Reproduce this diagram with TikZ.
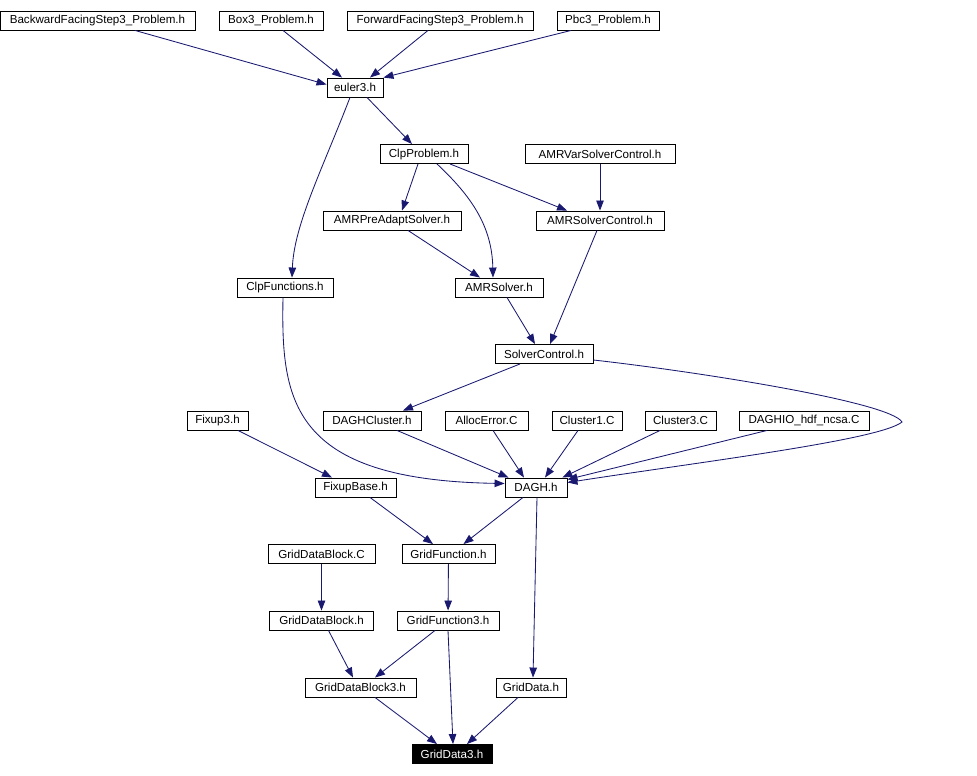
\documentclass[tikz,border=0pt]{standalone}
\usepackage{fontspec}
\setmainfont{Liberation Sans}
\definecolor{lnk}{HTML}{191970}
\usetikzlibrary{arrows.meta}

\begin{document}
\begin{tikzpicture}[x=1pt,y=-1pt,
    fl/.style={draw=black,fill=white,line width=0.9pt,inner sep=0pt,
      minimum height=19pt,font=\fontsize{11.6}{13}\selectfont},
    cur/.style={fl,fill=black,text=white},
    ar/.style={-{Triangle[length=10pt,width=7.5pt]},lnk,line width=0.85pt},
  ]
    \useasboundingbox (0,0) rectangle (977,776);

    \node[fl,minimum width=195pt] (bfs) at (97.5,20.5) {BackwardFacingStep3\_Problem.h};
    \node[fl,minimum width=104pt] (boxp) at (271,20.5) {Box3\_Problem.h};
    \node[fl,minimum width=186pt] (ffs) at (440,20.5) {ForwardFacingStep3\_Problem.h};
    \node[fl,minimum width=102pt] (pbcp) at (608,20.5) {Pbc3\_Problem.h};
    \node[fl,minimum width=56pt] (euler) at (355,87.5) {euler3.h};
    \node[fl,minimum width=88pt] (clpprob) at (424,154) {ClpProblem.h};
    \node[fl,minimum width=150pt] (amrvar) at (600,154) {AMRVarSolverControl.h};
    \node[fl,minimum width=138pt] (amrpre) at (392,220.5) {AMRPreAdaptSolver.h};
    \node[fl,minimum width=128pt] (amrsc) at (600,220.5) {AMRSolverControl.h};
    \node[fl,minimum width=96pt] (clpfun) at (285,287.5) {ClpFunctions.h};
    \node[fl,minimum width=88pt] (amrsol) at (499,287.5) {AMRSolver.h};
    \node[fl,minimum width=98pt] (solctl) at (544,354) {SolverControl.h};
    \node[fl,minimum width=61pt] (fixup) at (217.5,420.5) {Fixup3.h};
    \node[fl,minimum width=98pt] (daghcl) at (372,420.5) {DAGHCluster.h};
    \node[fl,minimum width=83pt] (allocerr) at (486.5,420.5) {AllocError.C};
    \node[fl,minimum width=70pt] (clusa) at (587,420.5) {Cluster1.C};
    \node[fl,minimum width=71pt] (clusb) at (680.5,420.5) {Cluster3.C};
    \node[fl,minimum width=130pt] (daghio) at (804,420.5) {DAGHIO\_hdf\_ncsa.C};
    \node[fl,minimum width=81pt] (fixbase) at (355.5,487.5) {FixupBase.h};
    \node[fl,minimum width=62pt] (dagh) at (536,487.5) {DAGH.h};
    \node[fl,minimum width=107pt] (gdbc) at (321.5,554) {GridDataBlock.C};
    \node[fl,minimum width=93pt] (gfun) at (448.5,554) {GridFunction.h};
    \node[fl,minimum width=104pt] (gdbh) at (321.5,620.5) {GridDataBlock.h};
    \node[fl,minimum width=102pt] (gfun3) at (448,620.5) {GridFunction3.h};
    \node[fl,minimum width=111pt] (gdb3) at (360.5,687.5) {GridDataBlock3.h};
    \node[fl,minimum width=70pt] (gdata) at (531,687.5) {GridData.h};
    \node[cur,minimum width=80pt] (gdata3) at (452,754) {GridData3.h};

    \draw[ar] ([xshift=37.5pt]bfs.south) -- ([yshift=3pt]euler.west);
    \draw[ar] ([xshift=12pt]boxp.south) -- ([xshift=-13pt]euler.north);
    \draw[ar] ([xshift=-12pt]ffs.south) -- ([xshift=15pt]euler.north);
    \draw[ar] ([xshift=-37pt]pbcp.south) -- (euler.north east);
    \draw[ar] ([xshift=12pt]euler.south) -- ([xshift=-12pt]clpprob.north);
    \draw[ar] ([xshift=-5pt]euler.south) .. controls (322,170) and (294,225) .. ([xshift=7pt]clpfun.north);
    \draw[ar] ([xshift=-6pt]clpprob.south) -- ([xshift=10pt]amrpre.north);
    \draw[ar] ([xshift=13pt]clpprob.south) .. controls (470,195) and (492,225) .. ([xshift=-6pt]amrsol.north);
    \draw[ar] ([xshift=26pt]clpprob.south) -- ([xshift=-33pt]amrsc.north);
    \draw[ar] (amrvar) -- (amrsc);
    \draw[ar] ([xshift=16pt]amrpre.south) -- ([xshift=-19pt]amrsol.north);
    \draw[ar] ([xshift=-3pt]amrsc.south) -- ([xshift=6pt]solctl.north);
    \draw[ar] ([xshift=8pt]amrsol.south) -- ([xshift=-9pt]solctl.north);
    \draw[ar] ([xshift=-2pt]clpfun.south) .. controls (281,400) and (290,480) .. ([yshift=4pt]dagh.west);
    \draw[ar] ([xshift=-24pt]solctl.south) -- ([xshift=31pt]daghcl.north);
    \draw[ar] ([yshift=-6pt]solctl.east) .. controls (700,372) and (890,402) .. (902,422)
      .. controls (880,440) and (700,462) .. ([yshift=5pt]dagh.east);
    \draw[ar] ([xshift=25pt]daghcl.south) -- ([xshift=4pt]dagh.north west);
    \draw[ar] ([xshift=6.5pt]allocerr.south) -- ([xshift=-12pt]dagh.north);
    \draw[ar] ([xshift=-9pt]clusa.south) -- ([xshift=9pt]dagh.north);
    \draw[ar] ([xshift=-20.5pt]clusb.south) -- ([xshift=-5pt]dagh.north east);
    \draw[ar] ([xshift=-37pt]daghio.south) -- ([yshift=8pt]dagh.east);
    \draw[ar] ([xshift=20.5pt]fixup.south) -- ([xshift=-23.5pt]fixbase.north);
    \draw[ar] ([xshift=14.5pt]fixbase.south) -- ([xshift=-15.5pt]gfun.north);
    \draw[ar] ([xshift=-13pt]dagh.south) -- ([xshift=15pt]gfun.north);
    \draw[ar] ([xshift=1pt]dagh.south) -- ([xshift=2pt]gdata.north);
    \draw[ar] (gdbc) -- (gdbh);
    \draw[ar] (gfun) -- (gfun3);
    \draw[ar] ([xshift=7pt]gdbh.south) -- ([xshift=-7.5pt]gdb3.north);
    \draw[ar] ([xshift=-13pt]gfun3.south) -- ([xshift=14.5pt]gdb3.north);
    \draw[ar] (gfun3.south) -- ([xshift=1pt]gdata3.north);
    \draw[ar] ([xshift=14.5pt]gdb3.south) -- ([xshift=-15pt]gdata3.north);
    \draw[ar] ([xshift=-13pt]gdata.south) -- ([xshift=15pt]gdata3.north);
  \end{tikzpicture}
\end{document}
